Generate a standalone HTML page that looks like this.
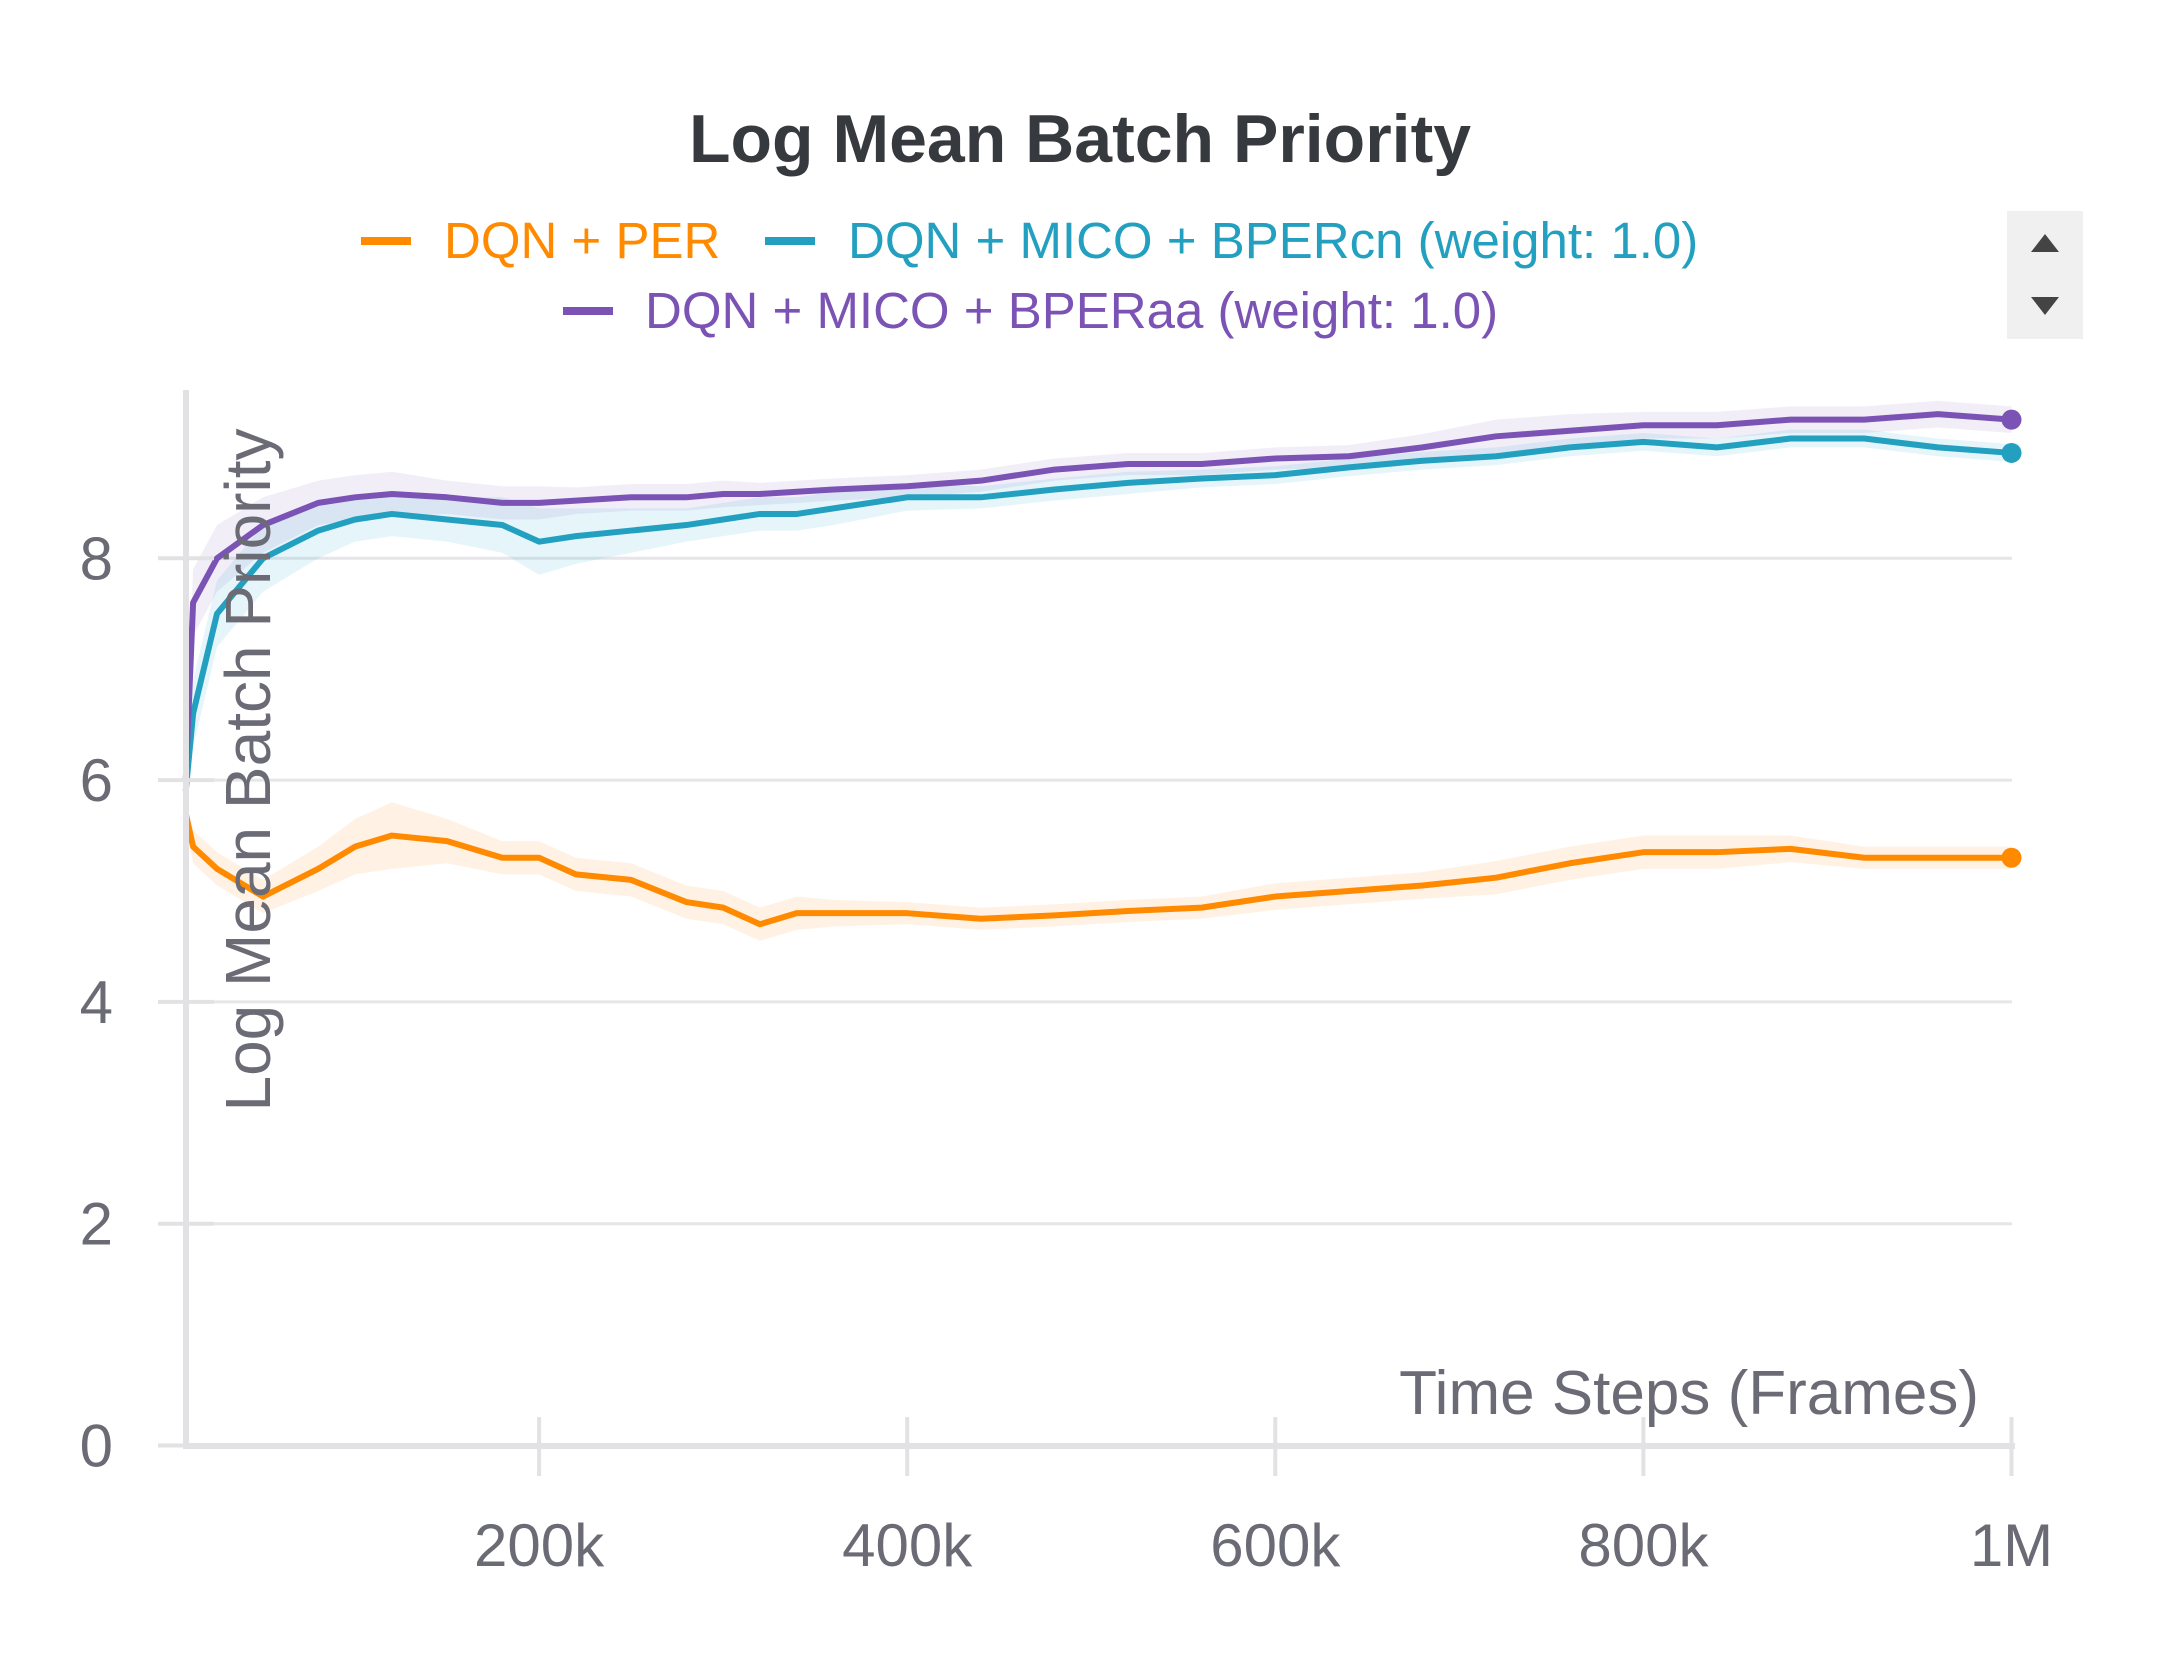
<!DOCTYPE html>
<html><head><meta charset="utf-8"><style>
html,body{margin:0;padding:0;background:#fff;}
body{width:2160px;height:1660px;overflow:hidden;font-family:"Liberation Sans",sans-serif;}
</style></head><body>
<svg id="chart" width="2160" height="1660" xmlns="http://www.w3.org/2000/svg">
<text x="1080" y="162" text-anchor="middle" font-size="68" font-weight="bold" fill="#363a3f" font-family="Liberation Sans, sans-serif">Log Mean Batch Priority</text>
<g font-size="51" font-family="Liberation Sans, sans-serif">
 <g><rect x="361" y="237" width="50" height="8" fill="#ff8a00"/><text x="444" y="258" fill="#ff8a00">DQN + PER</text></g>
 <g><rect x="765" y="237" width="50" height="8" fill="#23a0c0"/><text x="848" y="258" fill="#23a0c0">DQN + MICO + BPERcn (weight: 1.0)</text></g>
 <g><rect x="563" y="307" width="50" height="8" fill="#7b53b5"/><text x="645" y="328" fill="#7b53b5">DQN + MICO + BPERaa (weight: 1.0)</text></g>
</g>
<g>
 <rect x="2007" y="211" width="76" height="128" fill="#f0f0f0"/>
 <polygon points="2045,234 2031,252 2059,252" fill="#444"/>
 <polygon points="2031,297 2059,297 2045,315" fill="#444"/>
</g>
<g id="grid"></g>
<g id="bands"></g>
<g id="lines"></g>
<g id="axes"></g>
<text transform="translate(270,770) rotate(-90)" text-anchor="middle" font-size="64" fill="#6b6b76" font-family="Liberation Sans, sans-serif">Log Mean Batch Priority</text>
<text x="1979" y="1414" text-anchor="end" font-size="62" fill="#6b6b76" font-family="Liberation Sans, sans-serif">Time Steps (Frames)</text>
</svg>
<script>
const steps=[8,12,25,50,80,100,120,150,180,200,220,250,280,300,320,340,360,400,440,480,520,560,600,640,680,720,760,800,840,880,920,960,1000];
const perVals=[5.7,5.4,5.2,4.95,5.2,5.4,5.5,5.45,5.3,5.3,5.15,5.1,4.9,4.85,4.7,4.8,4.8,4.8,4.75,4.78,4.82,4.85,4.95,5.0,5.05,5.12,5.25,5.35,5.35,5.38,5.3,5.3,5.3];
const cnVals=[5.9,6.6,7.5,8.0,8.25,8.35,8.4,8.35,8.3,8.15,8.2,8.25,8.3,8.35,8.4,8.4,8.45,8.55,8.55,8.62,8.68,8.72,8.75,8.82,8.88,8.92,9.0,9.05,9.0,9.08,9.08,9.0,8.95];
const aaVals=[6.0,7.6,8.0,8.3,8.5,8.55,8.58,8.55,8.5,8.5,8.52,8.55,8.55,8.58,8.58,8.6,8.62,8.65,8.7,8.8,8.85,8.85,8.9,8.92,9.0,9.1,9.15,9.2,9.2,9.25,9.25,9.3,9.25];
const perSpread=[0.1,0.15,0.15,0.15,0.2,0.25,0.3,0.2,0.15,0.15,0.15,0.15,0.15,0.15,0.15,0.15,0.12,0.1,0.1,0.1,0.1,0.1,0.12,0.12,0.12,0.15,0.15,0.15,0.15,0.12,0.1,0.1,0.1];
const cnSpread=[0.1,0.3,0.3,0.3,0.25,0.2,0.2,0.2,0.25,0.3,0.25,0.2,0.15,0.15,0.15,0.15,0.15,0.12,0.1,0.1,0.1,0.08,0.08,0.08,0.08,0.08,0.08,0.08,0.08,0.08,0.08,0.08,0.08];
const aaSpread=[0.1,0.3,0.3,0.25,0.2,0.2,0.2,0.15,0.15,0.15,0.12,0.12,0.12,0.12,0.1,0.1,0.1,0.1,0.1,0.1,0.1,0.1,0.1,0.1,0.12,0.15,0.15,0.12,0.12,0.12,0.12,0.12,0.12];
const yTicks=[0,2,4,6,8];
const xTicks=[200,400,600,800,1000];
const xTickLabels=["200k","400k","600k","800k","1M"];

const X=v=>171+v*1.8405;
const Y=v=>1445.5-v*110.9;
const NS="http://www.w3.org/2000/svg";
function mk(tag,parent){const e=document.createElementNS(NS,tag);parent.appendChild(e);return e;}
const grid=document.getElementById('grid'),axes=document.getElementById('axes'),bands=document.getElementById('bands'),lines=document.getElementById('lines');
yTicks.forEach(t=>{
 if(t>0){const l=mk('line',grid);
 
 
 l.setAttribute('x1',160);l.setAttribute('x2',2012);l.setAttribute('y1',Y(t));l.setAttribute('y2',Y(t));l.setAttribute('stroke','#e6e6e9');l.setAttribute('stroke-width',3);}
 const k=mk('line',axes);
 
 
 k.setAttribute('x1',158);k.setAttribute('x2',214);k.setAttribute('y1',Y(t));k.setAttribute('y2',Y(t));k.setAttribute('stroke','#e2e2e5');k.setAttribute('stroke-width',4);
 const tx=mk('text',axes);
 
 
 tx.setAttribute('x',113);tx.setAttribute('y',Y(t)+21);tx.setAttribute('text-anchor','end');tx.setAttribute('font-size','60');tx.setAttribute('fill','#6b6b76');tx.textContent=t;
});
const ax=mk('line',axes);


ax.setAttribute('x1',186);ax.setAttribute('x2',186);ax.setAttribute('y1',390);ax.setAttribute('y2',1449);ax.setAttribute('stroke','#e2e2e5');ax.setAttribute('stroke-width',6);
const bx=mk('line',axes);


bx.setAttribute('x1',183);bx.setAttribute('x2',2015);bx.setAttribute('y1',1446);bx.setAttribute('y2',1446);bx.setAttribute('stroke','#e2e2e5');bx.setAttribute('stroke-width',6);
xTicks.forEach((t,i)=>{
 const k=mk('line',axes);
 
 
 k.setAttribute('x1',X(t));k.setAttribute('x2',X(t));k.setAttribute('y1',1417);k.setAttribute('y2',1476);k.setAttribute('stroke','#e2e2e5');k.setAttribute('stroke-width',4);
 const tx=mk('text',axes);
 
 
 tx.setAttribute('x',X(t));tx.setAttribute('y',1566);tx.setAttribute('text-anchor','middle');tx.setAttribute('font-size','60');tx.setAttribute('fill','#6b6b76');tx.textContent=xTickLabels[i];
});
function series(vals,spread,color,fill,name){
 let up=steps.map((s,i)=>X(s)+','+Y(vals[i]+spread[i]));
 let lo=steps.map((s,i)=>X(s)+','+Y(vals[i]-spread[i])).reverse();
 const b=mk('polygon',bands);
 
 
 b.setAttribute('points',up.concat(lo).join(' '));b.setAttribute('fill',fill);
 const l=mk('polyline',lines);
 
 
 l.setAttribute('points',steps.map((s,i)=>X(s)+','+Y(vals[i])).join(' '));
 l.setAttribute('fill','none');l.setAttribute('stroke',color);l.setAttribute('stroke-width',6);l.setAttribute('stroke-linejoin','round');
 const n=steps.length-1;
 const c=mk('circle',lines);
 
 
 c.setAttribute('cx',X(steps[n]));c.setAttribute('cy',Y(vals[n]));c.setAttribute('r',10);c.setAttribute('fill',color);
}
series(perVals,perSpread,'#ff8a00','rgba(255,170,80,0.15)','per');
series(cnVals,cnSpread,'#23a0c0','rgba(80,190,220,0.15)','bpercn');
series(aaVals,aaSpread,'#7b53b5','rgba(150,120,200,0.13)','bperaa');
</script>
</body></html>
